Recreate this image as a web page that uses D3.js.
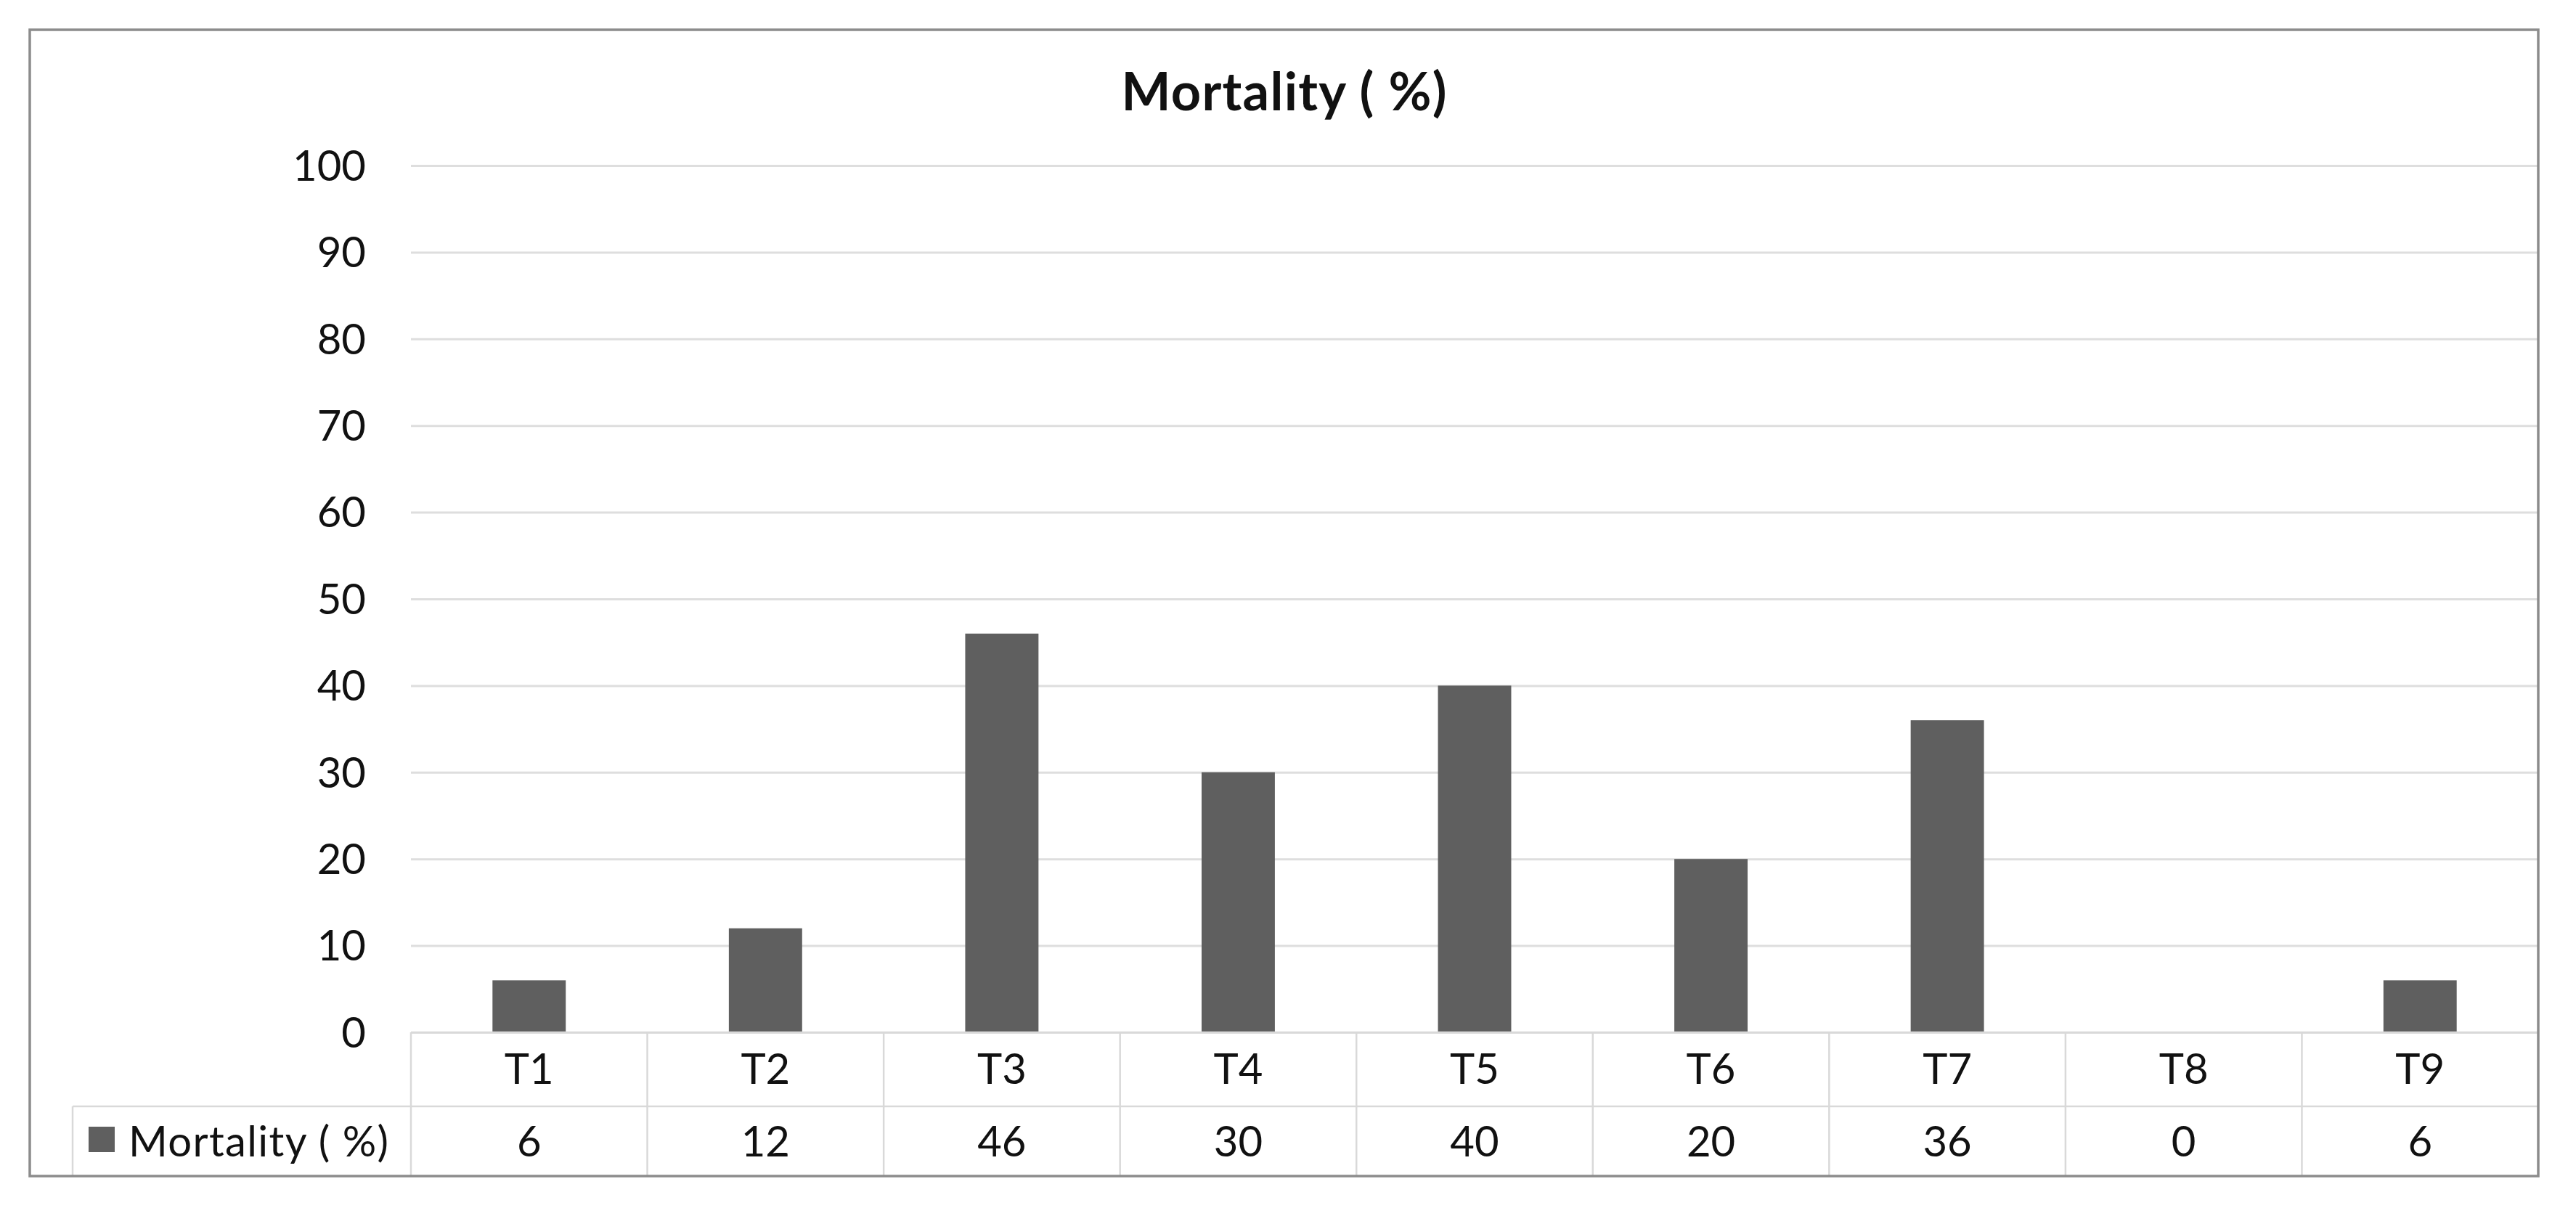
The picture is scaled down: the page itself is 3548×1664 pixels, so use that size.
<!DOCTYPE html>
<html><head><meta charset="utf-8">
<script src="https://cdn.jsdelivr.net/npm/d3@7"></script>
<style>body{margin:0;background:#fff}svg{display:block}</style>
</head><body>
<script>
const categories = ["T1","T2","T3","T4","T5","T6","T7","T8","T9"];
const mortality = [6,12,46,30,40,20,36,0,6];
const yTicks = [0,10,20,30,40,50,60,70,80,90,100];
const title = "Mortality ( %)";
const seriesName = "Mortality ( %)";

const W = 3548, H = 1664;
const frame = {l:41, t:41, r:3496, b:1620};
const plot = {l:566, r:3496, t:228, b:1422};
const rowMid = 1524;
const legendLeft = 100;
const font = "Lato, 'Open Sans', sans-serif";

const svg = d3.select("body").append("svg").attr("width", W).attr("height", H);
svg.append("rect").attr("width", W).attr("height", H).attr("fill", "#fff");

const x = d3.scaleBand().domain(categories).range([plot.l, plot.r]).paddingInner(0.69).paddingOuter(0.345);
const xc = d3.scaleBand().domain(categories).range([plot.l, plot.r]).padding(0);
const y = d3.scaleLinear().domain([0,100]).range([plot.b, plot.t]);

// gridlines
const yAxis = d3.axisLeft(y).tickValues(yTicks).tickSize(-(plot.r - plot.l)).tickPadding(62);
const gy = svg.append("g").attr("transform", `translate(${plot.l},0)`).call(yAxis);
gy.select(".domain").remove();
gy.selectAll(".tick line").attr("stroke", "#dedede").attr("stroke-width", 3);
gy.selectAll(".tick text").attr("font-family", font).attr("font-size", 58).attr("fill", "#111").attr("dy", "0.35em");

// bars
svg.append("g").selectAll("rect").data(categories).join("rect")
  .attr("x", d => x(d))
  .attr("width", x.bandwidth())
  .attr("y", (d,i) => y(mortality[i]))
  .attr("height", (d,i) => y(0) - y(mortality[i]))
  .attr("fill", "#5f5f5f");

// table lines
const tg = svg.append("g").attr("stroke", "#d9d9d9").attr("stroke-width", 2.5);
tg.append("line").attr("x1", plot.l).attr("x2", plot.r).attr("y1", plot.b).attr("y2", plot.b);
tg.append("line").attr("x1", legendLeft).attr("x2", plot.r).attr("y1", rowMid).attr("y2", rowMid);
tg.append("line").attr("x1", legendLeft).attr("x2", legendLeft).attr("y1", rowMid).attr("y2", frame.b);
tg.selectAll("line.v").data(categories).join("line").attr("class","v")
  .attr("x1", d => xc(d)).attr("x2", d => xc(d)).attr("y1", plot.b).attr("y2", frame.b);

// category labels
svg.append("g").selectAll("text").data(categories).join("text")
  .attr("x", d => xc(d) + xc.bandwidth()/2).attr("y", 1493)
  .attr("text-anchor", "middle").attr("font-family", font).attr("font-size", 58).attr("fill", "#111")
  .text(d => d);
// values row
svg.append("g").selectAll("text").data(categories).join("text")
  .attr("x", d => xc(d) + xc.bandwidth()/2).attr("y", 1593)
  .attr("text-anchor", "middle").attr("font-family", font).attr("font-size", 58).attr("fill", "#111")
  .text((d,i) => mortality[i]);

// legend key
svg.append("rect").attr("x", 122).attr("y", 1552).attr("width", 36).attr("height", 35).attr("fill", "#5f5f5f");
svg.append("text").attr("x", 177).attr("y", 1593).attr("font-family", font).attr("font-size", 58).attr("fill", "#111")
  .attr("textLength", 358).attr("lengthAdjust", "spacing").text(seriesName);

// title
svg.append("text").attr("x", (frame.l + frame.r)/2).attr("y", 152).attr("text-anchor", "middle")
  .attr("font-family", font).attr("font-weight", "bold").attr("font-size", 72).attr("fill", "#111")
  .attr("textLength", 448).attr("lengthAdjust", "spacing").text(title);

// outer frame
svg.append("rect").attr("x", frame.l).attr("y", frame.t).attr("width", frame.r - frame.l).attr("height", frame.b - frame.t)
  .attr("fill", "none").attr("stroke", "#8c8c8c").attr("stroke-width", 3.5);
</script>
</body></html>
